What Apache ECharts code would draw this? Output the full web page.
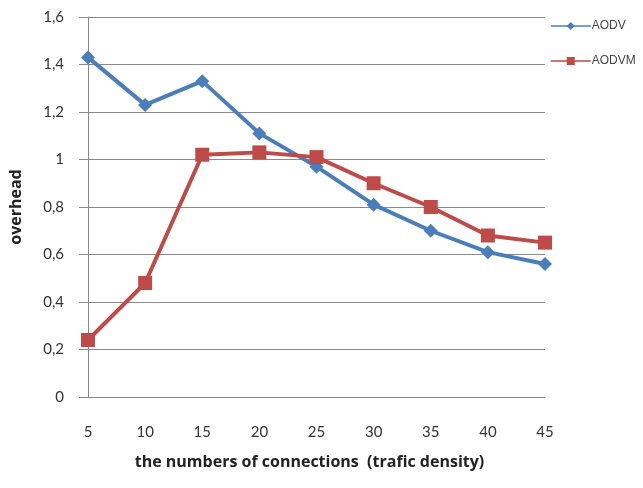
<!DOCTYPE html>
<html>
<head>
<meta charset="utf-8">
<script src="https://cdn.jsdelivr.net/npm/echarts@6/dist/echarts.min.js"></script>
<style>
  html, body { margin: 0; padding: 0; background: #fff; }
  #chart { width: 643px; height: 488px; }
</style>
</head>
<body>
<div id="chart"></div>
<script>
// Connection counts on the x axis
const connections = ['5', '10', '15', '20', '25', '30', '35', '40', '45'];
// Routing overhead per protocol
const aodv  = [1.43, 1.23, 1.33, 1.11, 0.97, 0.81, 0.70, 0.61, 0.56];
const aodvm = [0.24, 0.48, 1.02, 1.03, 1.01, 0.90, 0.80, 0.68, 0.65];

const BLUE = '#4A7EBB';
const RED = '#BE4B48';
const FONT = 'Lato, "Open Sans", sans-serif';
const TITLE_FONT = '"Open Sans", Lato, sans-serif';

const chart = echarts.init(document.getElementById('chart'), null, { renderer: 'canvas' });

chart.setOption({
  animation: false,
  backgroundColor: '#ffffff',
  grid: { left: 85, right: 98, top: 17, bottom: 91 },
  legend: {
    orient: 'vertical',
    left: 545,
    top: 15,
    itemGap: 23,
    itemWidth: 40,
    itemHeight: 10,
    lineStyle: { width: 1.5 },
    textStyle: { fontFamily: '"Liberation Sans", Arial, sans-serif', fontSize: 12, color: '#444', padding: [0, 0, 0, -4] },
    data: ['AODV', 'AODVM']
  },
  xAxis: {
    type: 'category',
    data: connections,
    boundaryGap: false,
    name: 'the numbers of connections  (trafic density)',
    nameLocation: 'middle',
    nameGap: 57,
    nameTextStyle: { fontFamily: TITLE_FONT, fontSize: 16, fontWeight: 'bold', color: '#222', padding: [0, 14, 0, 0] },
    axisLine: { lineStyle: { color: '#888', width: 1 } },
    axisTick: { show: false },
    axisLabel: { fontFamily: FONT, fontSize: 15, color: '#333', margin: 28 },
    splitLine: { show: false }
  },
  yAxis: {
    type: 'value',
    min: 0,
    max: 1.6,
    interval: 0.2,
    name: 'overhead',
    nameLocation: 'middle',
    nameGap: 64,
    nameTextStyle: { fontFamily: TITLE_FONT, fontSize: 16, fontWeight: 'bold', color: '#222' },
    axisLine: { show: true, lineStyle: { color: '#888', width: 1 } },
    axisTick: { show: true, length: 9, lineStyle: { color: '#888' } },
    axisLabel: {
      fontFamily: FONT,
      fontSize: 15,
      color: '#333',
      margin: 24,
      formatter: v => String(Math.round(v * 10) / 10).replace('.', ',')
    },
    splitLine: { show: true, lineStyle: { color: '#8a8a8a', width: 1 } }
  },
  series: [
    {
      name: 'AODV',
      type: 'line',
      data: aodv,
      color: BLUE,
      symbol: 'diamond',
      symbolSize: 14,
      showAllSymbol: true,
      lineStyle: { width: 4, color: BLUE },
      itemStyle: { color: BLUE }
    },
    {
      name: 'AODVM',
      type: 'line',
      data: aodvm,
      color: RED,
      symbol: 'rect',
      symbolSize: 14,
      showAllSymbol: true,
      lineStyle: { width: 4, color: RED },
      itemStyle: { color: RED }
    }
  ]
});
</script>
</body>
</html>
